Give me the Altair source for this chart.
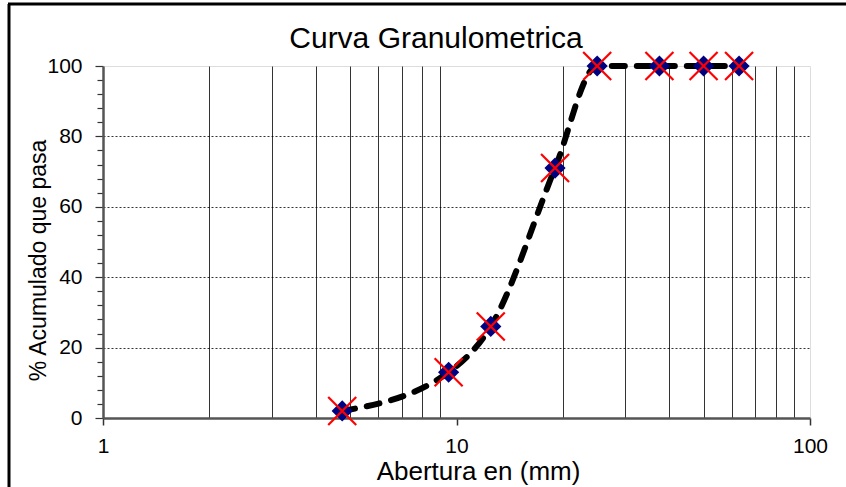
import altair as alt
import pandas as pd

# ---- data ----
abertura = [4.75, 9.5, 12.5, 19.0, 25.0, 37.5, 50.0, 63.0]
pasa = [2, 13, 26, 71, 100, 100, 100, 100]

x_tick_values = [1, 2, 3, 4, 5, 6, 7, 8, 9, 10, 20, 30, 40, 50, 60, 70, 80, 90, 100]
y_tick_values = list(range(0, 101, 4))

title_text = "Curva Granulometrica"
x_title = "Abertura en (mm)"
y_title = "% Acumulado que pasa"

df = pd.DataFrame({"abertura": abertura, "pasa": pasa})
FONT = "Liberation Sans"

major_x = "(datum.value == 1 || datum.value == 10 || datum.value == 100)"
major_y = "(datum.value % 20 == 0)"

x_enc = alt.X(
    "abertura:Q",
    scale=alt.Scale(type="log", domain=[1, 100], nice=False),
    axis=alt.Axis(
        values=x_tick_values, tickCount=200,
        title=x_title,
        labelExpr=f"{major_x} ? format(datum.value, 'd') : ''",
        labelFont=FONT, labelFontSize=21, labelColor="black", labelPadding=10,
        labelFlush=False, labelOverlap=False,
        titleFont=FONT, titleFontSize=26, titleFontWeight="normal", titleColor="black",
        titleX=375, titleY=61, titleBaseline="alphabetic", titleAlign="center",
        grid=True, gridColor="#333333", gridWidth=1,
        gridOpacity={"condition": {"test": f"!{major_x}", "value": 1}, "value": 0},
        ticks=True, tickSize=7, tickColor="#333333", tickWidth=1.5,
        tickOpacity={"condition": {"test": major_x, "value": 1}, "value": 0},
        domain=True, domainColor="#555555", domainWidth=2.5,
    ),
)

y_enc = alt.Y(
    "pasa:Q",
    scale=alt.Scale(domain=[0, 100], nice=False),
    axis=alt.Axis(
        values=y_tick_values, tickCount=200,
        title=y_title,
        labelExpr=f"{major_y} ? format(datum.value, 'd') : ''",
        labelFont=FONT, labelFontSize=21, labelColor="black", labelPadding=13,
        labelFlush=False, labelOverlap=False,
        titleFont=FONT, titleFontSize=23, titleFontWeight="normal", titleColor="black",
        titleX=-58, titleY=194, titleBaseline="alphabetic", titleAlign="center", titleAngle=-90,
        grid=True, gridColor="black", gridWidth=0.8, gridDash=[2, 2],
        gridOpacity={"condition": {"test": f"{major_y} && datum.value > 0 && datum.value < 100", "value": 1}, "value": 0},
        ticks=True, tickColor="#333333", tickWidth=1.2,
        tickSize={"condition": {"test": major_y, "value": 8}, "value": 6},
        domain=True, domainColor="#555555", domainWidth=2.5,
    ),
)

base = alt.Chart(df).encode(x=x_enc, y=y_enc)

line = base.mark_line(
    interpolate="monotone", color="black", strokeWidth=6,
    strokeDash=[13, 12], strokeCap="round",
)

diamonds = base.mark_point(
    shape="diamond", filled=True, color="#000080", size=450, opacity=1,
)

crosses = base.mark_point(
    shape="M-1,-1L1,1M-1,1L1,-1", filled=False, stroke="#ff0000", strokeWidth=2.2,
    size=784, opacity=1,
)

one = pd.DataFrame({"a": [0]})

# chart title as a text mark
title_mark = alt.Chart(one).mark_text(
    text=title_text, font=FONT, fontSize=30, color="black",
    align="center", baseline="alphabetic", clip=False,
).encode(x=alt.value(333), y=alt.value(-18))

# outer chart frame (top and left edges)
frame_top = alt.Chart(one).mark_rule(
    color="black", strokeWidth=3, clip=False
).encode(x=alt.value(-95), x2=alt.value(743), y=alt.value(-62))
frame_left = alt.Chart(one).mark_rule(
    color="black", strokeWidth=3, clip=False
).encode(x=alt.value(-94), y=alt.value(-62), y2=alt.value(421))

chart = alt.layer(line, diamonds, crosses, title_mark, frame_top, frame_left).properties(
    width=707,
    height=352,
    padding={"left": 103, "top": 66, "right": 36, "bottom": 69},
    autosize=alt.AutoSizeParams(type="none"),
).configure_view(
    stroke="#9a9a9a", strokeWidth=3,
).configure(background="white")

chart.save("out.html", embed_options={"renderer": "svg", "actions": False})
